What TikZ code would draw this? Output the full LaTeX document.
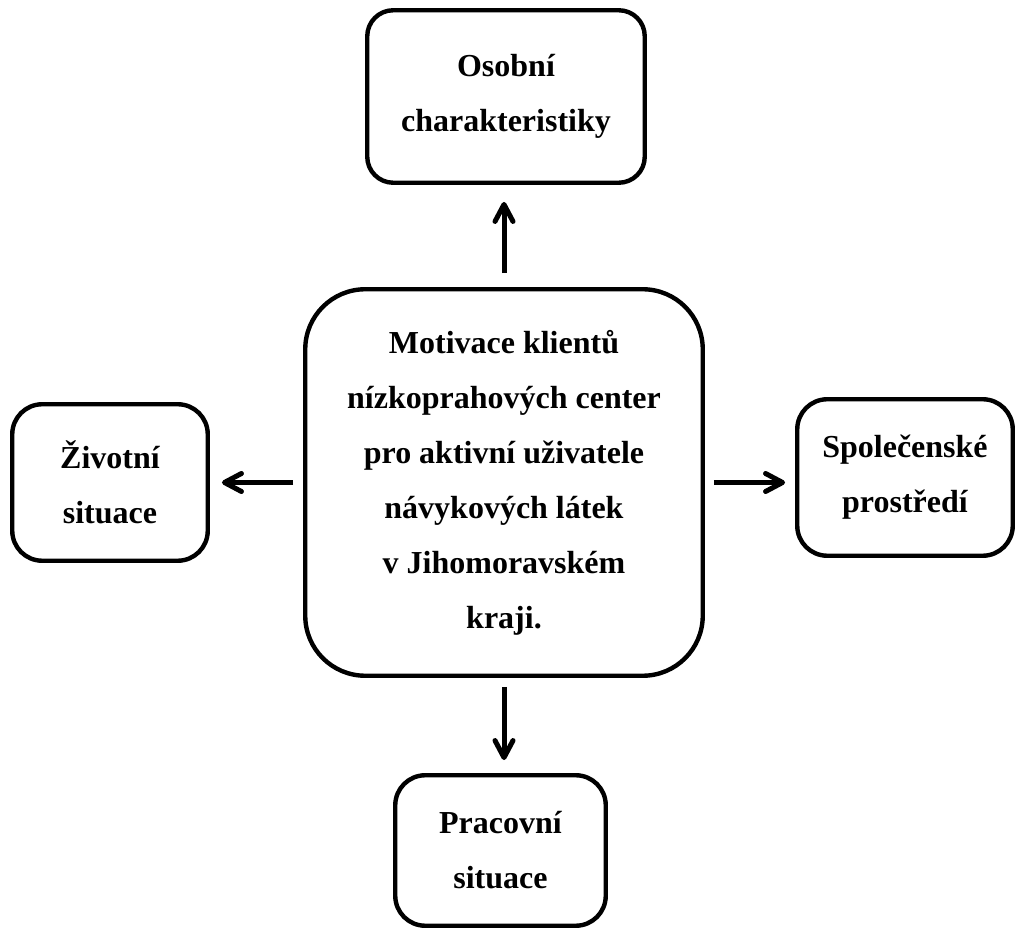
\documentclass[tikz,border=0pt]{standalone}
\usepackage{fontspec}
\setmainfont{Liberation Serif}
\usetikzlibrary{arrows.meta}

\begin{document}
\begin{tikzpicture}[x=0.5pt, y=-0.5pt, line width=2.2pt,
        >={Straight Barb[length=8.5pt, width=9pt, line cap=round, line join=round]},
        box/.style={draw, align=center, inner sep=2pt, font=\bfseries\fontsize{16}{27.5}\selectfont},
        link/.style={->, line width=2.5pt}]
        \useasboundingbox (0,0) rectangle (1017,929);

        \node[box, rounded corners=30pt, minimum width=198.75pt, minimum height=193.25pt] (motiv) at (504,482.5) {Motivace klientů\\nízkoprahových center\\pro aktivní uživatele\\návykových látek\\v Jihomoravském\\kraji.};

        \node[box, rounded corners=13pt, minimum width=138.75pt, minimum height=86.25pt] (osob) at (506,96.5) {Osobní\\charakteristiky};
        \node[box, rounded corners=15pt, minimum width=97.75pt, minimum height=78.25pt] (zivot) at (110,482.5) {Životní\\situace};
        \node[box, rounded corners=15pt, minimum width=107.75pt, minimum height=78.25pt] (spol) at (905,477.5) {Společenské\\prostředí};
        \node[box, rounded corners=15pt, minimum width=105.25pt, minimum height=75.25pt] (prac) at (500.5,850.5) {Pracovní\\situace};

        \draw[link, shorten <=7pt, shorten >=8.5pt] (motiv.north) -- (motiv.north |- osob.south);
        \draw[link, shorten <=5pt, shorten >=6pt] (motiv.west) -- (motiv.west -| zivot.east);
        \draw[link, shorten <=4.5pt, shorten >=5pt] (motiv.east) -- (motiv.east -| spol.west);
        \draw[link, shorten <=4.5pt, shorten >=6.5pt] (motiv.south) -- (motiv.south |- prac.north);
    \end{tikzpicture}
\end{document}
